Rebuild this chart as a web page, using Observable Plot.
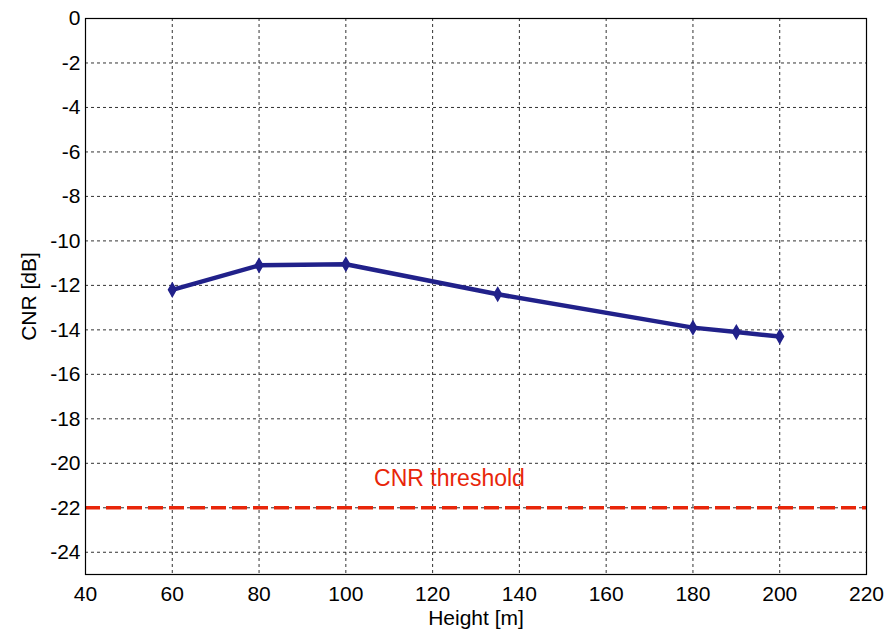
<!DOCTYPE html>
<html>
<head>
<meta charset="utf-8">
<script src="https://cdn.jsdelivr.net/npm/d3@7"></script>
<script src="https://cdn.jsdelivr.net/npm/@observablehq/plot@0.6"></script>
<style>
  html, body { margin: 0; padding: 0; background: #fff; }
</style>
</head>
<body>
<div id="chart"></div>
<script>
const heights = [60, 80, 100, 135, 180, 190, 200];
const cnr = [-12.2, -11.1, -11.05, -12.4, -13.9, -14.1, -14.3];
const threshold = -22;
const thresholdLabel = "CNR threshold";
const xTicks = [40, 60, 80, 100, 120, 140, 160, 180, 200, 220];
const yTicks = [0, -2, -4, -6, -8, -10, -12, -14, -16, -18, -20, -22, -24];

const data = heights.map((h, i) => ({height: h, cnr: cnr[i]}));

const chart = Plot.plot({
  width: 886,
  height: 631,
  marginLeft: 85,
  marginRight: 20,
  marginTop: 18,
  marginBottom: 57,
  style: {fontFamily: "Arial, 'Liberation Sans', sans-serif", fontSize: "21px", color: "#000", background: "#fff"},
  x: {domain: [40, 220]},
  y: {domain: [-25, 0]},
  marks: [
    Plot.ruleX(xTicks.slice(1, -1), {stroke: "#333", strokeWidth: 1, strokeDasharray: "3,3"}),
    Plot.ruleY(yTicks.slice(1), {stroke: "#333", strokeWidth: 1, strokeDasharray: "3,3"}),
    Plot.ruleY([threshold], {stroke: "#e8260a", strokeWidth: 3.5, strokeDasharray: "15,6"}),
    Plot.text([thresholdLabel], {x: 106.5, y: -20.7, text: d => d, fill: "#e8260a", textAnchor: "start", fontSize: 23}),
    Plot.line(data, {x: "height", y: "cnr", stroke: "#21218a", strokeWidth: 4.5}),
    Plot.dot(data, {x: "height", y: "cnr", symbol: "diamond", r: 4, fill: "#21218a", stroke: "#21218a"}),
    Plot.frame({stroke: "#000", strokeWidth: 1.2}),
    Plot.axisX(xTicks, {tickSize: 0, tickPadding: 12, fontSize: 21, tickFormat: d => String(d), label: "Height [m]", labelAnchor: "center", labelArrow: "none", labelOffset: 50}),
    Plot.axisY(yTicks, {tickSize: 0, tickPadding: 5, fontSize: 21, tickFormat: d => String(d), label: "CNR [dB]", labelAnchor: "center", labelArrow: "none", labelOffset: 64})
  ]
});
document.getElementById("chart").appendChild(chart);
</script>
</body>
</html>
